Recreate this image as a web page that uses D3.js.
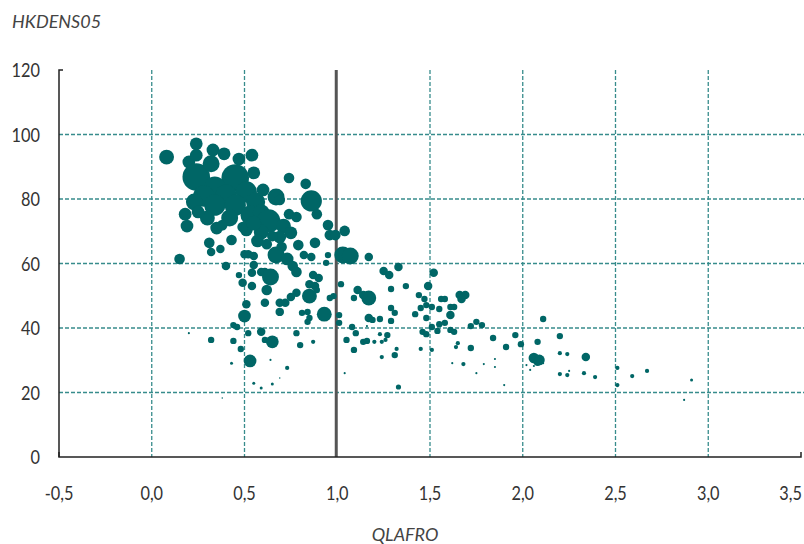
<!DOCTYPE html>
<html>
<head>
<meta charset="utf-8">
<style>
  body { margin: 0; background: #fff; }
  text { font-family: "Lato", sans-serif; }
</style>
</head>
<body>
<svg id="mainSvg" width="804" height="544"></svg>
<script src="https://d3js.org/d3.v7.min.js"></script>
<script>
// QLAFRO (x), HKDENS05 (y), weight (bubble size)
const qlafro = [
  0.08,0.18,0.19,0.15,0.20,0.24,0.24,0.24,0.20,0.33,0.39,0.32,0.47,0.54,0.55,0.45,0.34,0.28,0.40,0.51,
  0.23,0.34,0.45,0.56,0.60,0.67,0.53,0.42,0.30,0.59,0.63,0.71,0.75,0.69,0.59,0.51,0.25,0.35,0.69,0.74,
  0.83,0.86,0.74,0.78,0.89,0.95,0.96,0.99,1.04,0.65,0.70,0.79,0.88,0.82,0.86,0.67,0.73,0.76,0.78,0.95,
  0.94,1.03,1.07,0.87,0.90,0.85,0.88,0.31,0.32,0.37,0.43,0.38,0.40,0.49,0.47,0.49,0.54,0.50,0.52,0.55,
  0.55,0.54,0.59,0.61,0.64,0.62,0.61,0.69,0.72,0.69,0.51,0.50,0.44,0.46,0.32,0.44,0.48,0.52,0.53,0.43,
  0.59,0.61,0.65,0.64,0.55,0.59,0.65,0.69,0.73,0.38,0.75,0.78,0.85,0.89,0.81,0.84,0.85,0.84,0.93,1.02,
  0.96,0.98,1.01,1.01,0.78,0.80,0.87,1.04,1.11,1.09,1.17,1.14,1.17,1.25,1.28,1.33,1.37,1.29,1.17,1.19,
  1.23,1.29,1.31,1.29,1.16,1.08,1.10,1.05,1.09,1.14,1.16,1.20,1.24,1.26,1.27,1.23,1.24,1.31,1.32,1.33,
  1.52,1.49,1.44,1.47,1.45,1.48,1.51,1.55,1.56,1.58,1.42,1.48,1.61,1.63,1.61,1.66,1.69,1.67,1.55,1.58,
  1.51,1.46,1.48,1.54,1.61,1.63,1.72,1.75,1.78,1.65,1.64,1.72,1.45,1.51,1.84,1.91,1.96,1.62,1.68,1.75,
  1.79,1.85,1.85,1.90,1.99,2.08,2.11,2.20,2.02,2.04,2.06,2.06,2.09,2.08,2.11,2.20,2.24,2.34,2.20,2.24,
  2.25,2.33,2.39,2.51,2.51,2.59,2.67,2.91,2.87,0.57,0.62,0.55
]
const hkdens = [
  93.0,75.3,71.6,61.4,91.5,97.1,93.6,86.8,38.4,95.2,94.0,90.9,92.4,93.6,88.1,86.5,83.7,80.9,81.2,82.2,
  79.1,78.1,78.1,79.1,82.8,80.6,75.0,74.1,74.1,75.7,73.2,71.6,69.5,68.2,69.8,70.4,76.0,71.0,79.7,86.5,
  84.7,79.4,75.3,74.4,75.3,71.9,68.8,68.8,70.1,68.5,65.1,65.7,66.4,62.6,62.0,62.6,61.4,59.2,57.4,62.6,
  60.2,62.6,62.3,56.4,55.5,53.6,53.0,66.4,63.6,64.5,67.3,71.9,59.2,71.3,56.4,54.0,53.0,62.9,62.9,62.3,
  59.5,57.1,57.4,57.4,55.8,51.8,47.8,47.8,47.8,45.0,47.4,43.7,40.9,40.3,36.3,36.0,33.5,38.4,29.8,29.1,
  38.8,36.3,35.7,30.1,22.9,21.4,22.6,24.5,27.6,18.3,49.6,50.9,49.9,51.8,44.7,45.0,43.1,41.9,44.3,53.6,
  49.3,49.9,44.0,41.6,38.4,34.7,35.7,26.0,51.8,49.3,49.3,50.2,62.0,57.7,56.4,58.9,53.0,52.1,43.1,42.5,
  42.8,46.2,44.7,42.2,40.6,40.3,38.4,36.3,33.2,35.7,36.0,35.7,35.7,36.3,37.8,38.1,31.0,31.6,33.5,21.7,
  57.1,53.0,50.2,49.0,46.2,47.1,46.5,45.9,49.0,49.0,44.3,43.1,46.5,46.5,44.0,50.2,50.2,49.0,41.2,41.6,
  40.3,38.8,38.1,39.1,39.4,38.8,40.6,41.9,40.9,35.3,34.1,33.8,33.5,33.2,36.9,34.1,37.8,29.1,28.8,26.0,
  28.8,30.4,27.9,22.3,35.0,35.7,42.8,37.5,28.5,27.0,28.2,30.7,30.1,29.5,29.1,32.2,31.9,31.0,25.7,25.4,
  26.7,26.0,24.8,27.6,22.3,25.1,26.7,23.9,17.7,67.0,66.0,72.5
]
const weight = [
  49,36,36,25,36,36,36,169,1,36,36,64,36,36,36,169,100,100,100,100,
  64,100,100,81,36,64,81,64,49,64,121,49,36,36,49,36,36,36,25,25,
  25,100,25,25,25,25,25,25,25,25,25,25,25,16,16,64,36,25,25,9,
  9,64,64,16,16,16,16,25,16,16,25,25,16,25,9,16,16,16,16,16,
  16,16,16,16,64,25,16,16,16,16,16,36,9,9,9,9,9,9,36,2,
  16,9,36,1,2,2,2,0.5,4,0.5,16,16,49,9,9,9,9,9,49,9,
  9,9,9,9,9,9,4,1,16,9,49,16,16,16,16,16,9,9,16,9,
  9,9,9,9,1,9,9,9,9,9,9,4,4,4,9,4,4,9,4,6,
  16,16,9,9,9,9,9,9,9,9,9,9,9,9,16,16,16,16,9,9,
  9,9,9,9,9,9,9,9,9,4,4,9,4,4,9,9,9,1,4,1,
  1,1,1,1,9,9,9,9,1,1,1,25,25,16,1,4,4,16,4,4,
  1,4,4,4,4,4,4,2,1,36,25,49
]
const xTicks = [-0.5, 0, 0.5, 1, 1.5, 2, 2.5, 3, 3.5]
const yTicks = [0, 20, 40, 60, 80, 100, 120]

const svg = d3.select('#mainSvg')
const margin = { top: 70, right: 3, bottom: 87, left: 59 }
const width = +svg.attr('width'), height = +svg.attr('height')

const xScale = d3.scaleLinear().domain([-0.5, 3.5]).range([margin.left, width - margin.right])
const yScale = d3.scaleLinear().domain([0, 120]).range([height - margin.bottom, margin.top])
const rScale = d3.scaleSqrt().domain([0, 169]).range([0, 13.8])

const gridColor = '#378c8c'
const fmt = d => d3.format('.1f')(d).replace('.', ',').replace('\u2212', '-')

// horizontal grid
svg.append('g').selectAll('line').data(yTicks.filter(d => d > 0 && d < 120)).join('line')
  .attr('x1', xScale(-0.5)).attr('x2', width)
  .attr('y1', d => yScale(d)).attr('y2', d => yScale(d))
  .attr('stroke', gridColor).attr('stroke-width', 1.3).attr('stroke-dasharray', '4,2')

// vertical grid
svg.append('g').selectAll('line').data(xTicks.filter(d => d > -0.5 && d < 3.5 && d !== 1)).join('line')
  .attr('x1', d => xScale(d)).attr('x2', d => xScale(d))
  .attr('y1', yScale(120)).attr('y2', yScale(0))
  .attr('stroke', gridColor).attr('stroke-width', 1.3).attr('stroke-dasharray', '4,2')

// reference line at 1.0
svg.append('line')
  .attr('x1', xScale(1) - 1).attr('x2', xScale(1) - 1)
  .attr('y1', yScale(120)).attr('y2', yScale(0))
  .attr('stroke', '#555').attr('stroke-width', 3)

// bubbles
const pts = qlafro.map((x, i) => ({ x, y: hkdens[i], w: weight[i] }))
svg.append('g').selectAll('circle').data(pts).join('circle')
  .attr('cx', d => xScale(d.x))
  .attr('cy', d => yScale(d.y))
  .attr('r', d => rScale(d.w))
  .attr('fill', '#006666')

// axes
const axes = svg.append('g').attr('stroke', '#222').attr('stroke-width', 1.5).attr('fill', 'none')
axes.append('path').attr('d', `M${xScale(-0.5) + 4},${yScale(120)}H${xScale(-0.5)}V${yScale(0)}H${xScale(3.5)}V${yScale(0) - 5}`)
axes.append('path').attr('d', `M${xScale(-0.5)},${yScale(0)}v-5`)

// tick labels (narrow, like the original face)
svg.append('g').selectAll('text').data(yTicks).join('text')
  .attr('transform', d => `translate(40,${yScale(d) + 7}) scale(0.86,1)`)
  .attr('text-anchor', 'end').attr('font-size', 19).attr('fill', '#333')
  .text(d => d)

svg.append('g').selectAll('text').data(xTicks).join('text')
  .attr('transform', d => `translate(${d === 3.5 ? width - 2 : xScale(d)},500) scale(0.86,1)`)
  .attr('text-anchor', d => d === 3.5 ? 'end' : 'middle').attr('font-size', 19).attr('fill', '#333')
  .text(fmt)

svg.append('text').attr('x', 12).attr('y', 28)
  .attr('font-size', 18).attr('font-style', 'italic').attr('fill', '#444')
  .text('HKDENS05')

svg.append('text').attr('x', 405).attr('y', 541)
  .attr('text-anchor', 'middle').attr('font-size', 18).attr('font-style', 'italic').attr('fill', '#444')
  .text('QLAFRO')
</script>
</body>
</html>
